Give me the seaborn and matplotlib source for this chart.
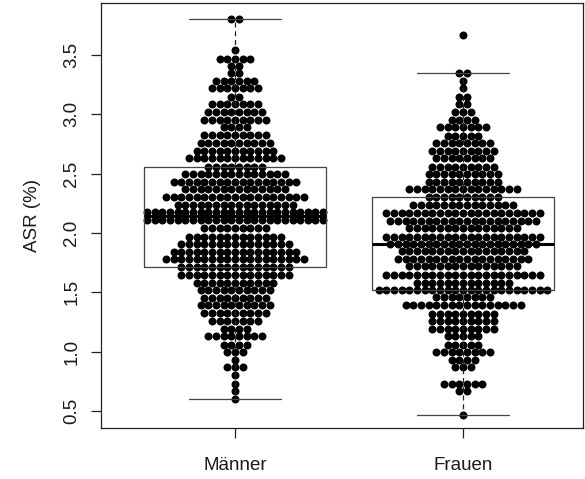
"""
Boxplot with beeswarm of ASR (%) for Männer and Frauen.
"""
import matplotlib
matplotlib.use("Agg")
import matplotlib.pyplot as plt
import numpy as np
import pandas as pd
import seaborn as sns

groups = ["Männer", "Frauen"]

# beeswarm rows: level of each row and how many dots sit in it
maenner_values = [3.80, 3.54, 3.47, 3.41, 3.35, 3.28, 3.22, 3.15, 3.09, 3.02,
                  2.95, 2.89, 2.83, 2.76, 2.69, 2.63, 2.56, 2.50, 2.43, 2.37,
                  2.30, 2.24, 2.18, 2.11, 2.04, 1.97, 1.91, 1.84, 1.78, 1.71,
                  1.65, 1.58, 1.52, 1.45, 1.39, 1.33, 1.26, 1.19, 1.13, 1.06,
                  1.00, 0.93, 0.87, 0.80, 0.73, 0.67, 0.60]
maenner_counts = [2, 1, 5, 2, 2, 6, 7, 2, 7, 8,
                  9, 4, 9, 10, 11, 13, 8, 14, 17, 14,
                  19, 16, 24, 24, 9, 13, 15, 17, 19, 15,
                  15, 11, 10, 9, 10, 9, 7, 4, 8, 4,
                  3, 1, 3, 1, 1, 1, 1]

frauen_values = [3.67, 3.35, 3.28, 3.22, 3.15, 3.09, 3.02, 2.95, 2.89, 2.82,
                 2.76, 2.69, 2.63, 2.56, 2.50, 2.43, 2.37, 2.30, 2.24, 2.17,
                 2.10, 2.04, 1.97, 1.91, 1.85, 1.78, 1.72, 1.65, 1.58, 1.52,
                 1.46, 1.39, 1.32, 1.26, 1.19, 1.13, 1.06, 1.00, 0.93, 0.87,
                 0.73, 0.67, 0.47]
frauen_counts = [1, 2, 1, 1, 2, 2, 3, 4, 7, 5,
                 8, 9, 8, 9, 10, 10, 15, 10, 14, 21,
                 20, 15, 21, 20, 17, 18, 15, 21, 13, 23,
                 8, 16, 9, 9, 9, 5, 5, 8, 4, 3,
                 6, 2, 1]

yticks = [0.5, 1.0, 1.5, 2.0, 2.5, 3.0, 3.5]

# build long table, one row per dot, with its slot inside the beeswarm row
records = []
for g, vals, cnts in [("Männer", maenner_values, maenner_counts),
                      ("Frauen", frauen_values, frauen_counts)]:
    for v, n in zip(vals, cnts):
        for i in range(n):
            records.append((g, v, i - (n - 1) / 2))
df = pd.DataFrame(records, columns=["gruppe", "asr", "slot"])

dot_step = 0.0336  # horizontal distance between neighbouring dots (x units)
df["xpos"] = df["gruppe"].map({g: k for k, g in enumerate(groups)}) + df["slot"] * dot_step

sns.set_theme(style="ticks")
plt.rcParams["font.family"] = ["Liberation Sans", "DejaVu Sans"]

fig, ax = plt.subplots(figsize=(5.85, 4.79), dpi=100)
fig.subplots_adjust(left=0.1726, right=0.9966, bottom=0.1065, top=0.9937)

sns.scatterplot(data=df, x="xpos", y="asr", color="black", s=33,
                linewidth=0, ax=ax, zorder=2, legend=False)

sns.boxplot(data=df, x="gruppe", y="asr", order=groups, fill=False,
            width=0.8, whis=1.5, showfliers=False, color="#444444",
            linewidth=0.9,
            medianprops=dict(color="black", linewidth=2.2),
            whiskerprops=dict(linestyle=(0, (4, 3)), color="#222222"),
            ax=ax, zorder=3)

ax.set_xlim(-0.588, 1.526)
ax.set_ylim(0.357, 3.938)
ax.set_xticks([0, 1])
ax.set_xticklabels(groups)
ax.set_yticks(yticks)
ax.set_yticklabels([f"{t:.1f}" for t in yticks], rotation=90, va="center")
ax.set_xlabel("")
ax.set_ylabel("ASR (%)", fontsize=13.5, color="#1a1a1a", labelpad=16)

ax.tick_params(axis="both", direction="out", length=7, width=0.9,
               color="#222222", labelsize=13.5, labelcolor="#1a1a1a")
ax.tick_params(axis="x", pad=14)
ax.tick_params(axis="y", pad=8)
for s in ax.spines.values():
    s.set_visible(True)
    s.set_color("#222222")
    s.set_linewidth(0.9)

fig.savefig("out.png", dpi=100)
